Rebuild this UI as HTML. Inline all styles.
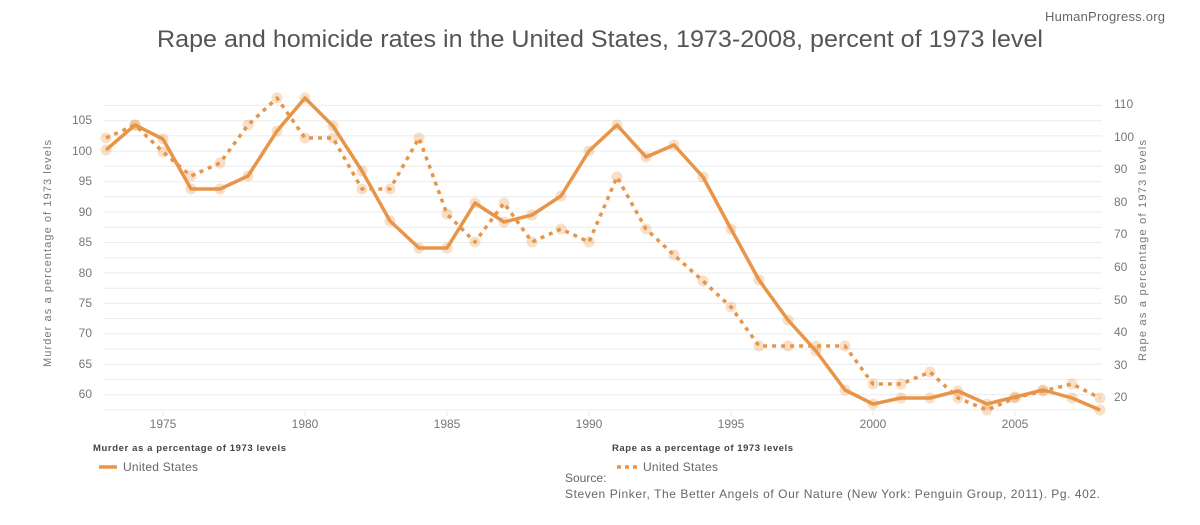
<!DOCTYPE html>
<html><head><meta charset="utf-8"><style>
body{margin:0;background:#fff;width:1200px;height:520px;overflow:hidden;font-family:"Liberation Sans",sans-serif}
</style></head><body>
<svg width="1200" height="520" xmlns="http://www.w3.org/2000/svg" font-family="Liberation Sans, sans-serif">
<text x="1165" y="21" font-size="13" fill="#666" text-anchor="end" textLength="120">HumanProgress.org</text>
<text x="157" y="47" font-size="24" fill="#555" textLength="886" lengthAdjust="spacingAndGlyphs">Rape and homicide rates in the United States, 1973-2008, percent of 1973 level</text>
<g stroke="#ebebeb" stroke-width="1">
<line x1="103" x2="1102" y1="105.4" y2="105.4"/><line x1="103" x2="1102" y1="120.7" y2="120.7"/><line x1="103" x2="1102" y1="135.9" y2="135.9"/><line x1="103" x2="1102" y1="151.1" y2="151.1"/><line x1="103" x2="1102" y1="166.3" y2="166.3"/><line x1="103" x2="1102" y1="181.6" y2="181.6"/><line x1="103" x2="1102" y1="196.8" y2="196.8"/><line x1="103" x2="1102" y1="212" y2="212"/><line x1="103" x2="1102" y1="227.3" y2="227.3"/><line x1="103" x2="1102" y1="242.5" y2="242.5"/><line x1="103" x2="1102" y1="257.7" y2="257.7"/><line x1="103" x2="1102" y1="273" y2="273"/><line x1="103" x2="1102" y1="288.2" y2="288.2"/><line x1="103" x2="1102" y1="303.4" y2="303.4"/><line x1="103" x2="1102" y1="318.6" y2="318.6"/><line x1="103" x2="1102" y1="333.9" y2="333.9"/><line x1="103" x2="1102" y1="349.1" y2="349.1"/><line x1="103" x2="1102" y1="364.3" y2="364.3"/><line x1="103" x2="1102" y1="379.5" y2="379.5"/><line x1="103" x2="1102" y1="394.8" y2="394.8"/><line x1="103" x2="1102" y1="410" y2="410"/>
<line x1="163" x2="163" y1="410" y2="416"/><line x1="305" x2="305" y1="410" y2="416"/><line x1="447" x2="447" y1="410" y2="416"/><line x1="589" x2="589" y1="410" y2="416"/><line x1="731" x2="731" y1="410" y2="416"/><line x1="873" x2="873" y1="410" y2="416"/><line x1="1015" x2="1015" y1="410" y2="416"/>
</g>
<g font-size="12" fill="#777" text-anchor="end">
<text x="92" y="124">105</text><text x="92" y="155">100</text><text x="92" y="185">95</text><text x="92" y="216">90</text><text x="92" y="246">85</text><text x="92" y="277">80</text><text x="92" y="307">75</text><text x="92" y="337">70</text><text x="92" y="368">65</text><text x="92" y="398">60</text>
</g>
<g font-size="12" fill="#777" text-anchor="start">
<text x="1114" y="108">110</text><text x="1114" y="141">100</text><text x="1114" y="173">90</text><text x="1114" y="206">80</text><text x="1114" y="238">70</text><text x="1114" y="271">60</text><text x="1114" y="304">50</text><text x="1114" y="336">40</text><text x="1114" y="369">30</text><text x="1114" y="401">20</text>
</g>
<g font-size="12" fill="#777" text-anchor="middle">
<text x="163" y="428">1975</text><text x="305" y="428">1980</text><text x="447" y="428">1985</text><text x="589" y="428">1990</text><text x="731" y="428">1995</text><text x="873" y="428">2000</text><text x="1015" y="428">2005</text>
</g>
<text transform="translate(51,367) rotate(-90)" font-size="11" fill="#777" textLength="227">Murder as a percentage of 1973 levels</text>
<text transform="translate(1146,361) rotate(-90)" font-size="11" fill="#777" textLength="221">Rape as a percentage of 1973 levels</text>
<g fill="none" stroke="#e8954a" stroke-width="3.5" stroke-linejoin="round">
<polyline stroke-dasharray="4,5" points="106,138 135,125 163,152 191,176 220,163 248,125 277,98 305,138 333,138 362,189 390,189 419,138 447,214 475,242 504,203 532,242 561,229 589,242 617,177 646,229 674,255 703,281 731,307 759,346 788,346 816,346 845,346 873,384 901,384 930,372 958,398 987,410 1015,398 1043,391 1072,384 1100,398"/>
<polyline points="106,150 135,125 163,139 191,189 220,189 248,176 277,131 305,98 333,126 362,171 390,221 419,248 447,248 475,203 504,222 532,215 561,196 589,151 617,125 646,157 674,145 703,177 731,229 759,280 788,320 816,351 845,390 873,404 901,398 930,398 958,391 987,404 1015,397 1043,390 1072,398 1100,410"/>
</g>
<g fill="#e8954a" fill-opacity="0.3">
<circle cx="106" cy="138" r="5.5"/><circle cx="135" cy="125" r="5.5"/><circle cx="163" cy="152" r="5.5"/><circle cx="191" cy="176" r="5.5"/><circle cx="220" cy="163" r="5.5"/><circle cx="248" cy="125" r="5.5"/><circle cx="277" cy="98" r="5.5"/><circle cx="305" cy="138" r="5.5"/><circle cx="333" cy="138" r="5.5"/><circle cx="362" cy="189" r="5.5"/><circle cx="390" cy="189" r="5.5"/><circle cx="419" cy="138" r="5.5"/><circle cx="447" cy="214" r="5.5"/><circle cx="475" cy="242" r="5.5"/><circle cx="504" cy="203" r="5.5"/><circle cx="532" cy="242" r="5.5"/><circle cx="561" cy="229" r="5.5"/><circle cx="589" cy="242" r="5.5"/><circle cx="617" cy="177" r="5.5"/><circle cx="646" cy="229" r="5.5"/><circle cx="674" cy="255" r="5.5"/><circle cx="703" cy="281" r="5.5"/><circle cx="731" cy="307" r="5.5"/><circle cx="759" cy="346" r="5.5"/><circle cx="788" cy="346" r="5.5"/><circle cx="816" cy="346" r="5.5"/><circle cx="845" cy="346" r="5.5"/><circle cx="873" cy="384" r="5.5"/><circle cx="901" cy="384" r="5.5"/><circle cx="930" cy="372" r="5.5"/><circle cx="958" cy="398" r="5.5"/><circle cx="987" cy="410" r="5.5"/><circle cx="1015" cy="398" r="5.5"/><circle cx="1043" cy="391" r="5.5"/><circle cx="1072" cy="384" r="5.5"/><circle cx="1100" cy="398" r="5.5"/>
<circle cx="106" cy="150" r="5.5"/><circle cx="135" cy="125" r="5.5"/><circle cx="163" cy="139" r="5.5"/><circle cx="191" cy="189" r="5.5"/><circle cx="220" cy="189" r="5.5"/><circle cx="248" cy="176" r="5.5"/><circle cx="277" cy="131" r="5.5"/><circle cx="305" cy="98" r="5.5"/><circle cx="333" cy="126" r="5.5"/><circle cx="362" cy="171" r="5.5"/><circle cx="390" cy="221" r="5.5"/><circle cx="419" cy="248" r="5.5"/><circle cx="447" cy="248" r="5.5"/><circle cx="475" cy="203" r="5.5"/><circle cx="504" cy="222" r="5.5"/><circle cx="532" cy="215" r="5.5"/><circle cx="561" cy="196" r="5.5"/><circle cx="589" cy="151" r="5.5"/><circle cx="617" cy="125" r="5.5"/><circle cx="646" cy="157" r="5.5"/><circle cx="674" cy="145" r="5.5"/><circle cx="703" cy="177" r="5.5"/><circle cx="731" cy="229" r="5.5"/><circle cx="759" cy="280" r="5.5"/><circle cx="788" cy="320" r="5.5"/><circle cx="816" cy="351" r="5.5"/><circle cx="845" cy="390" r="5.5"/><circle cx="873" cy="404" r="5.5"/><circle cx="901" cy="398" r="5.5"/><circle cx="930" cy="398" r="5.5"/><circle cx="958" cy="391" r="5.5"/><circle cx="987" cy="404" r="5.5"/><circle cx="1015" cy="397" r="5.5"/><circle cx="1043" cy="390" r="5.5"/><circle cx="1072" cy="398" r="5.5"/><circle cx="1100" cy="410" r="5.5"/>
</g>
<text x="93" y="451" font-size="9.5" font-weight="bold" fill="#444" textLength="193">Murder as a percentage of 1973 levels</text>
<line x1="99" x2="117" y1="467" y2="467" stroke="#e8954a" stroke-width="3.5"/>
<text x="123" y="471" font-size="12" fill="#666" textLength="75">United States</text>
<text x="612" y="451" font-size="9.5" font-weight="bold" fill="#444" textLength="181">Rape as a percentage of 1973 levels</text>
<line x1="617" x2="637" y1="467" y2="467" stroke="#e8954a" stroke-width="3.5" stroke-dasharray="4,4"/>
<text x="643" y="471" font-size="12" fill="#666" textLength="75">United States</text>
<text x="565" y="482" font-size="12" fill="#666">Source:</text>
<text x="565" y="498" font-size="12" fill="#666" textLength="535">Steven Pinker, The Better Angels of Our Nature (New York: Penguin Group, 2011). Pg. 402.</text>
</svg>
</body></html>
